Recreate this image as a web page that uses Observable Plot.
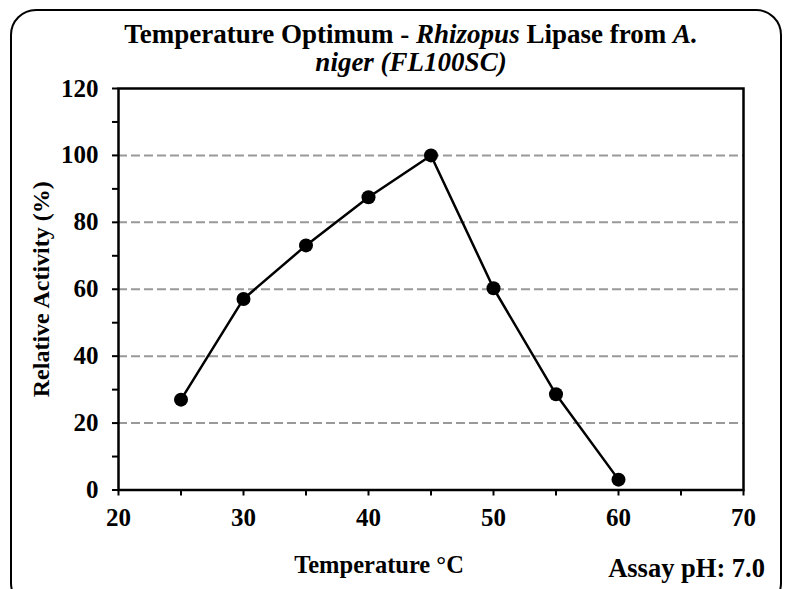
<!DOCTYPE html>
<html><head><meta charset="utf-8">
<script src="https://cdn.jsdelivr.net/npm/d3@7"></script>
<script src="https://cdn.jsdelivr.net/npm/@observablehq/plot@0.6"></script>
<style>
body{margin:0;background:#fff;}
#wrap{position:relative;width:787px;height:589px;overflow:hidden;font-family:"Liberation Serif","Times New Roman",serif;font-weight:bold;color:#000;}
#chart{position:absolute;left:0;top:0;}
#frame{position:absolute;left:10px;top:9px;width:772px;height:600px;border:2px solid #000;border-radius:26px;box-sizing:border-box;}
#title{position:absolute;left:0;width:822px;top:20px;text-align:center;font-size:27px;line-height:28px;}
#xlabel{position:absolute;left:279px;width:200px;top:553px;text-align:center;font-size:24.5px;line-height:24px;}
#note{position:absolute;right:22px;top:556px;font-size:26.5px;line-height:25px;white-space:nowrap;}
</style></head>
<body>
<div id="wrap">
  <div id="chart"></div>
  <div id="frame"></div>
  <div id="title">Temperature Optimum - <i>Rhizopus</i> Lipase from <i>A.</i><br><i>niger (FL100SC)</i></div>
  <div id="xlabel">Temperature °C</div>
  <div id="note">Assay pH: 7.0</div>
</div>
<script>
const temps = [25, 30, 35, 40, 45, 50, 55, 60];
const activity = [27.0, 57.1, 73.1, 87.5, 100, 60.3, 28.6, 3.1];
const xTicks = [20, 30, 40, 50, 60, 70];
const xMinor = [25, 35, 45, 55, 65];
const yTicks = [0, 20, 40, 60, 80, 100, 120];
const yMinor = [10, 30, 50, 70, 90, 110];
const gridY = [20, 40, 60, 80, 100];
const yLabel = "Relative Activity (%)";

const data = temps.map((t, i) => ({t, a: activity[i]}));

const plot = Plot.plot({
  width: 787,
  height: 589,
  marginLeft: 118,
  marginRight: 44,
  marginTop: 88,
  marginBottom: 99.5,
  style: {fontFamily: "'Liberation Serif','Times New Roman',serif", fontSize: "25px", fontWeight: "bold", background: "transparent", color: "#000"},
  x: {domain: [20, 70]},
  y: {domain: [0, 120]},
  marks: [
    Plot.ruleY(gridY, {stroke: "#999", strokeWidth: 2, strokeDasharray: "9,4"}),
    Plot.axisX({ticks: xMinor, tickSize: 6, tickFormat: () => "", label: null, strokeWidth: 2}),
    Plot.axisX({ticks: xTicks, tickSize: 6, tickPadding: 12, label: null, strokeWidth: 2}),
    Plot.axisY({ticks: yMinor, tickSize: 6, tickFormat: () => "", label: null, strokeWidth: 2}),
    Plot.axisY({ticks: yTicks, tickSize: 6, tickPadding: 14, label: null, strokeWidth: 2}),
    Plot.axisY({ticks: [], label: yLabel, labelAnchor: "center", labelOffset: 87, labelArrow: "none", fontSize: 24, tickSize: 0}),
    Plot.frame({stroke: "#000", strokeWidth: 2.5}),
    Plot.line(data, {x: "t", y: "a", stroke: "#000", strokeWidth: 2.5}),
    Plot.dot(data, {x: "t", y: "a", r: 7, fill: "#000", stroke: "none"})
  ]
});
document.getElementById("chart").appendChild(plot);
</script>
</body></html>
